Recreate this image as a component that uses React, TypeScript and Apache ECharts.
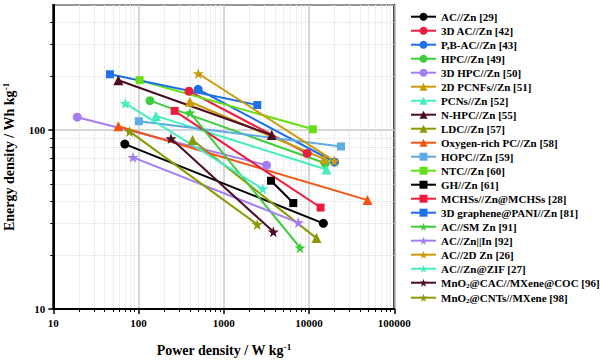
import React, { useEffect, useRef } from "react";
import * as echarts from "echarts";

const seriesNames = [
  "AC//Zn [29]",
  "3D AC//Zn [42]",
  "P,B-AC//Zn [43]",
  "HPC//Zn [49]",
  "3D HPC//Zn [50]",
  "2D PCNFs//Zn [51]",
  "PCNs//Zn [52]",
  "N-HPC//Zn [55]",
  "LDC//Zn [57]",
  "Oxygen-rich PC//Zn [58]",
  "HOPC//Zn [59]",
  "NTC//Zn [60]",
  "GH//Zn [61]",
  "MCHSs//Zn@MCHSs [28]",
  "3D graphene@PANI//Zn [81]",
  "AC//SM Zn [91]",
  "AC//Zn||In [92]",
  "AC//2D Zn [26]",
  "AC//Zn@ZIF [27]",
  "MnO2@CAC//MXene@COC [96]",
  "MnO2@CNTs//MXene [98]",
];

// Power density (W kg-1): [start, end]
const powerDensity = [
  [69, 14700],
  [390, 9500],
  [500, 19900],
  [136, 15500],
  [19.1, 3170],
  [400, 15100],
  [160, 16000],
  [58, 3650],
  [430, 12200],
  [58, 48500],
  [101, 23700],
  [103, 11100],
  [3580, 6530],
  [265, 13650],
  [46.2, 2470],
  [401, 7830],
  [86, 7480],
  [502, 19700],
  [70, 2860],
  [240, 3810],
  [78.3, 2470],
];

// Energy density (Wh kg-1): [start, end]
const energyDensity = [
  [83.5, 30.1],
  [165, 74],
  [169, 66.3],
  [146, 65.2],
  [118, 63.6],
  [144, 68.9],
  [120, 60.2],
  [190, 93.8],
  [88, 24.9],
  [105, 40.6],
  [112, 81],
  [190, 101],
  [52.1, 39.1],
  [128, 36.9],
  [205, 138],
  [125, 22],
  [70.4, 30.4],
  [207, 67.2],
  [141, 47],
  [89.6, 27],
  [98.3, 29.7],
];

const xMinorTicks = [
  20, 30, 40, 50, 60, 70, 80, 90,
  200, 300, 400, 500, 600, 700, 800, 900,
  2000, 3000, 4000, 5000, 6000, 7000, 8000, 9000,
  20000, 30000, 40000, 50000, 60000, 70000, 80000, 90000,
];
const yMinorTicks = [20, 30, 40, 50, 60, 70, 80, 90, 200, 300, 400];

const STAR =
  "path://M0,-10 L2.35,-3.24 L9.51,-3.09 L3.8,1.24 L5.88,8.09 L0,4 L-5.88,8.09 L-3.8,1.24 L-9.51,-3.09 L-2.35,-3.24 Z";

const BLACK = "#000000";
const RED = "#ec1c3e";
const BLUE = "#1f6fe6";
const GREEN = "#3ccc3c";
const VIOLET = "#a47ef0";
const GOLD = "#c89c0a";
const AQUA = "#44eec0";
const MAROON = "#4c0c24";
const OLIVE = "#8a9a00";
const ORANGE = "#f25410";
const LIGHTBLUE = "#5eaae2";
const LIME = "#66e016";

const colors = [
  BLACK, RED, BLUE, GREEN, VIOLET,
  GOLD, AQUA, MAROON, OLIVE, ORANGE,
  LIGHTBLUE, LIME, BLACK, RED, BLUE,
  GREEN, VIOLET, GOLD, AQUA, MAROON, OLIVE,
];
const symbols = [
  "circle", "circle", "circle", "circle", "circle",
  "triangle", "triangle", "triangle", "triangle", "triangle",
  "rect", "rect", "rect", "rect", "rect",
  STAR, STAR, STAR, STAR, STAR, STAR,
];
const symbolSizes = [
  9, 9, 9, 9, 9,
  10, 10, 10, 10, 10,
  8, 8, 8, 8, 8,
  11, 11, 11, 11, 11, 11,
];

const FONT = "'Liberation Serif', 'Times New Roman', serif";
const LOG_MIN_X = 1;
const LOG_MAX_X = 5;
const LOG_MIN_Y = 1;

export default function App() {
  const ref = useRef<HTMLDivElement>(null);

  useEffect(() => {
    document.body.style.margin = "0";
    const chart = echarts.init(ref.current!, null, { renderer: "svg" });

    const series: any[] = seriesNames.map((name, i) => ({
      name,
      type: "line",
      xAxisIndex: 0,
      yAxisIndex: 0,
      data: powerDensity[i].map((p, k) => [p, energyDensity[i][k]]),
      symbol: symbols[i],
      symbolSize: symbolSizes[i],
      showAllSymbol: true,
      color: colors[i],
      lineStyle: { width: 2, color: colors[i] },
      itemStyle: { color: colors[i] },
      z: 3,
    }));

    const axisText = {
      fontFamily: FONT,
      fontWeight: "bold",
      fontSize: 11,
      color: "#000",
    };
    const nameStyle = {
      fontFamily: FONT,
      fontWeight: "bold",
      fontSize: 14,
      color: "#000",
      rich: {
        sup: {
          fontFamily: FONT,
          fontWeight: "bold",
          fontSize: 9,
          color: "#000",
          verticalAlign: "bottom",
          padding: [0, 0, 8, 0],
        },
      },
    };

    chart.setOption({
      animation: false,
      backgroundColor: "#ffffff",
      grid: {
        left: 53.3,
        right: 205.7,
        top: 5,
        bottom: 51,
        show: true,
        borderColor: "#000",
        borderWidth: 2,
        backgroundColor: "transparent",
        containLabel: false,
        outerBoundsMode: "none",
      },
      legend: {
        orient: "vertical",
        left: 410,
        top: 11.2,
        padding: 0,
        itemWidth: 25,
        itemHeight: 10,
        itemGap: 3.0,
        formatter: (name: string) => name.replace("MnO2", "MnO{sub|2}"),
        textStyle: {
          fontFamily: FONT,
          fontWeight: "bold",
          fontSize: 11,
          color: "#000",
          rich: {
            sub: {
              fontFamily: FONT,
              fontWeight: "bold",
              fontSize: 7,
              color: "#000",
              verticalAlign: "top",
              padding: [6, 0, 0, 0],
            },
          },
        },
        data: seriesNames,
      },
      xAxis: [
        {
          type: "log",
          logBase: 10,
          min: 10,
          max: 100000,
          position: "bottom",
          name: "Power density / W kg{sup|-1}",
          nameLocation: "middle",
          nameGap: 33,
          nameTextStyle: nameStyle,
          axisLine: { show: true, lineStyle: { color: "#000", width: 2 } },
          axisTick: { show: true, length: 5, lineStyle: { color: "#000", width: 1.5 } },
          axisLabel: {
            ...axisText,
            margin: 8,
            formatter: (v: number) => String(Math.round(v)),
          },
          splitLine: { show: true, lineStyle: { color: "#c6cbcb", width: 1.5 } },
        },
        {
          type: "value",
          min: LOG_MIN_X,
          max: LOG_MAX_X,
          position: "bottom",
          axisLine: { show: false },
          axisLabel: { show: false },
          axisTick: {
            show: true,
            length: 3,
            customValues: xMinorTicks.map((v) => Math.log10(v)),
            lineStyle: { color: "#000", width: 1 },
          },
          splitLine: {
            show: true,
            lineStyle: { color: "#e0e0e0", width: 1, type: "dotted" },
          },
        },
      ],
      yAxis: [
        {
          type: "log",
          logBase: 10,
          min: 10,
          max: 500,
          position: "left",
          name: "Energy density / Wh kg{sup|-1}",
          nameLocation: "middle",
          nameGap: 35,
          nameTextStyle: nameStyle,
          axisLine: { show: true, lineStyle: { color: "#000", width: 2 } },
          axisTick: { show: true, length: 5, lineStyle: { color: "#000", width: 1.5 } },
          axisLabel: {
            ...axisText,
            margin: 8,
            showMaxLabel: false,
            formatter: (v: number) => String(Math.round(v)),
          },
          splitLine: { show: true, lineStyle: { color: "#c6cbcb", width: 1.5 } },
        },
        {
          type: "value",
          min: LOG_MIN_Y,
          max: Math.log10(500),
          position: "left",
          axisLine: { show: false },
          axisLabel: { show: false },
          axisTick: {
            show: true,
            length: 3,
            customValues: yMinorTicks.map((v) => Math.log10(v)),
            lineStyle: { color: "#000", width: 1 },
          },
          splitLine: {
            show: true,
            lineStyle: { color: "#e0e0e0", width: 1, type: "dotted" },
          },
        },
      ],
      series,
    });

    return () => chart.dispose();
  }, []);

  return <div ref={ref} style={{ width: 600, height: 360 }} />;
}
